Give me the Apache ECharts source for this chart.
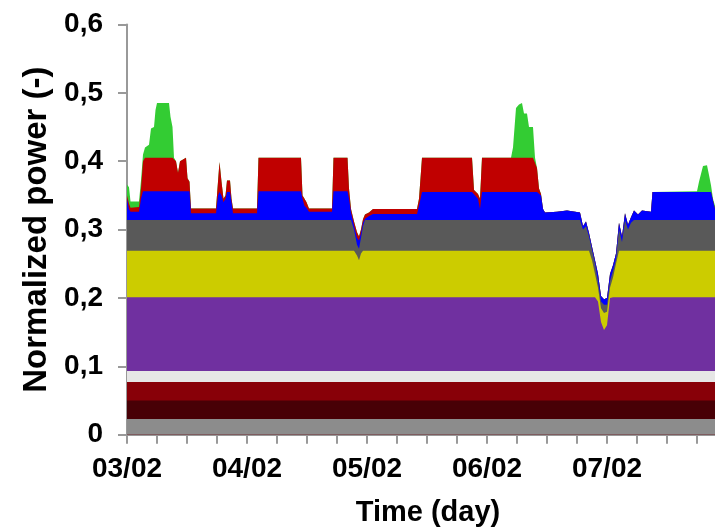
<!DOCTYPE html>
<html>
<head>
<meta charset="utf-8">
<script src="https://cdn.jsdelivr.net/npm/echarts@6/dist/echarts.min.js"></script>
<style>
html,body{margin:0;padding:0;background:#fff;}
#chart{width:715px;height:528px;}
</style>
</head>
<body>
<div id="chart"></div>
<script>
// Time axis in hours since 03/02 00:00
var dayLabels = ['03/02', '04/02', '05/02', '06/02', '07/02'];

// shared time grid for the three upper layers (cumulative top of each layer)
var hours = [
  0, 0.4, 0.7, 2.4, 2.8, 3.2, 3.6, 4.4, 4.8, 5.4,
  5.7, 6.0, 8.4, 8.7, 9.1, 9.4, 9.8, 10.2, 10.6, 11.8,
  12.1, 12.5, 12.8, 17.8, 18.2, 18.5, 18.9, 19.3, 19.7, 20.0,
  20.6, 20.9, 21.2, 26.0, 26.3, 34.8, 35.1, 35.5, 35.9, 36.4,
  41.0, 41.3, 44.1, 44.4, 44.8, 45.4, 46.0, 46.4, 46.8, 47.2,
  47.6, 48.4, 49.2, 58.0, 58.4, 59.0, 69.0, 69.4, 70.2, 70.6,
  71.0, 76.8, 77.2, 77.8, 78.4, 79.0, 79.4, 80.0, 80.4, 81.2,
  81.6, 82.0, 82.4, 82.8, 83.2, 83.6, 86.0, 88.0, 90.6, 91.2,
  91.8, 92.4, 93.0, 93.6, 94.2, 94.8, 95.4, 96.0, 96.6, 97.2,
  97.8, 98.4, 99.0, 99.6, 100.2, 100.8, 101.4, 102.2, 103.0, 104.8,
  105.1, 114.0, 114.4, 115.2, 116.0, 116.4, 116.8, 117.2, 117.6
];
var greenTop = [
  .366, .362, .341, .341, .372, .410, .420, .424, .448, .450,
  .475, .485, .485, .465, .450, .405, .400, .383, .400, .405,
  .375, .370, .331, .331, .370, .399, .370, .345, .350, .372,
  .372, .345, .331, .331, .405, .405, .350, .345, .340, .331,
  .331, .405, .405, .360, .330, .312, .296, .290, .300, .315,
  .322, .325, .330, .330, .345, .405, .405, .358, .352, .345,
  .405, .405, .420, .478, .483, .485, .470, .470, .450, .450,
  .405, .390, .360, .352, .330, .325, .326, .328, .325, .305,
  .312, .295, .275, .255, .235, .203, .198, .200, .235, .248,
  .265, .310, .290, .324, .307, .318, .328, .322, .328, .326,
  .355, .356, .370, .393, .394, .380, .365, .345, .335
];
var redTop = [
  .350, .338, .332, .333, .360, .400, .405, .405, .405, .405,
  .405, .405, .405, .405, .405, .405, .400, .383, .400, .405,
  .375, .370, .331, .331, .370, .399, .370, .345, .350, .372,
  .372, .345, .331, .331, .405, .405, .350, .345, .340, .331,
  .331, .405, .405, .360, .330, .312, .296, .290, .300, .315,
  .322, .325, .330, .330, .345, .405, .405, .358, .352, .345,
  .405, .405, .405, .405, .405, .405, .405, .405, .405, .405,
  .405, .390, .360, .352, .330, .325, .326, .328, .325, .305,
  .312, .295, .275, .255, .235, .203, .198, .200, .235, .248,
  .265, .310, .290, .324, .307, .318, .328, .322, .328, .326,
  .355, .355, .355, .355, .355, .355, .355, .355, .330
];
var blueTop = [
  .345, .330, .326, .326, .345, .356, .356, .356, .356, .356,
  .356, .356, .356, .356, .356, .356, .356, .356, .356, .356,
  .356, .356, .324, .324, .350, .355, .350, .340, .345, .355,
  .355, .340, .324, .324, .356, .356, .345, .335, .332, .326,
  .326, .356, .356, .345, .325, .306, .288, .284, .295, .310,
  .316, .320, .323, .323, .335, .355, .355, .355, .345, .330,
  .355, .355, .355, .355, .355, .355, .355, .355, .355, .355,
  .355, .355, .355, .350, .330, .325, .326, .328, .325, .305,
  .312, .295, .275, .255, .235, .203, .198, .200, .235, .248,
  .265, .310, .290, .324, .307, .318, .328, .322, .328, .326,
  .355, .355, .355, .355, .355, .355, .355, .355, .330
];

// dark gray layer
var dgrayHours = [0, 44.8, 45.4, 46.0, 46.4, 46.8, 47.2, 47.6, 90.6, 91.2, 91.8, 92.4, 93.0, 93.6, 94.2, 94.8, 95.4, 96.0, 96.6, 97.2, 97.8, 98.4, 99.0, 99.6, 100.2, 100.8, 101.4, 117.6];
var dgrayTop   = [.314, .314, .300, .278, .272, .288, .305, .314, .314, .300, .305, .290, .270, .250, .225, .195, .190, .190, .225, .240, .257, .300, .282, .314, .300, .310, .314, .314];

// yellow layer
var yellowHours = [0, 45.4, 46.0, 46.4, 46.8, 47.2, 92.4, 93.0, 93.6, 94.2, 94.8, 95.4, 96.0, 96.6, 97.2, 97.8, 98.4, 117.6];
var yellowTop   = [.269, .269, .262, .255, .265, .269, .269, .255, .235, .215, .185, .178, .180, .215, .230, .250, .269, .269];

// purple layer
var purpleHours = [0, 93.6, 94.2, 94.8, 95.4, 96.0, 96.6, 97.2, 117.6];
var purpleTop   = [.201, .201, .195, .165, .153, .160, .200, .201, .201];

// constant bottom layers
var edgeHours = [0, 117.6];
var lgrayTop  = [.093, .093];
var brownTop  = [.077, .077];
var maroonTop = [.050, .050];
var baseTop   = [.023, .023];

var yTicks = [0, 0.1, 0.2, 0.3, 0.4, 0.5, 0.6];

function pairs(xs, ys) {
  return xs.map(function (x, i) { return [x, ys[i]]; });
}
function area(name, xs, ys, color) {
  return {
    name: name, type: 'line', data: pairs(xs, ys),
    symbol: 'none', showSymbol: false, silent: true,
    lineStyle: { width: 0, opacity: 0 },
    areaStyle: { color: color, opacity: 1 },
    emphasis: { disabled: true }
  };
}

var FONT = 'Liberation Sans, Arial, sans-serif';
var axisGray = '#999999';

var chart = echarts.init(document.getElementById('chart'), null, { renderer: 'canvas' });
chart.setOption({
  animation: false,
  backgroundColor: '#ffffff',
  grid: { left: 127, right: 0, top: 24.5, bottom: 93.3, containLabel: false, outerBoundsMode: 'none' },
  xAxis: {
    type: 'value', min: 0, max: 117.6, interval: 6,
    name: 'Time (day)', nameLocation: 'middle', nameGap: 64,
    nameTextStyle: { fontFamily: FONT, fontWeight: 'bold', fontSize: 29, color: '#000', padding: [0, 0, 0, 14] },
    axisLine: { show: true, lineStyle: { color: axisGray, width: 2 } },
    axisTick: { show: true, length: 9, lineStyle: { color: axisGray, width: 2 } },
    splitLine: { show: false },
    axisLabel: {
      margin: 21, fontFamily: FONT, fontWeight: 'bold', fontSize: 28, color: '#000',
      showMaxLabel: false,
      formatter: function (v) {
        if (Math.abs(v % 24) < 1e-6) { var k = Math.round(v / 24); return dayLabels[k] || ''; }
        return '';
      }
    }
  },
  yAxis: {
    type: 'value', min: 0, max: 0.6, interval: 0.1,
    name: 'Normalized power (-)', nameLocation: 'middle', nameGap: 68,
    nameTextStyle: { fontFamily: FONT, fontWeight: 'bold', fontSize: 33, color: '#000' },
    axisLine: { show: true, lineStyle: { color: axisGray, width: 2 } },
    axisTick: { show: true, length: 9, lineStyle: { color: axisGray, width: 2 } },
    splitLine: { show: false },
    axisLabel: {
      margin: 24, fontFamily: FONT, fontWeight: 'bold', fontSize: 28, color: '#000',
      formatter: function (v) {
        var t = yTicks.reduce(function (a, b) { return Math.abs(b - v) < Math.abs(a - v) ? b : a; });
        return t === 0 ? '0' : t.toFixed(1).replace('.', ',');
      }
    }
  },
  series: [
    area('green', hours, greenTop, '#33cc33'),
    area('red', hours, redTop, '#c00000'),
    area('blue', hours, blueTop, '#0000ff'),
    area('dgray', dgrayHours, dgrayTop, '#595959'),
    area('yellow', yellowHours, yellowTop, '#cccc00'),
    area('purple', purpleHours, purpleTop, '#7030a0'),
    area('lgray', edgeHours, lgrayTop, '#e6e6e6'),
    area('brown', edgeHours, brownTop, '#880008'),
    area('maroon', edgeHours, maroonTop, '#480006'),
    area('base', edgeHours, baseTop, '#8c8c8c')
  ]
});
</script>
</body>
</html>
